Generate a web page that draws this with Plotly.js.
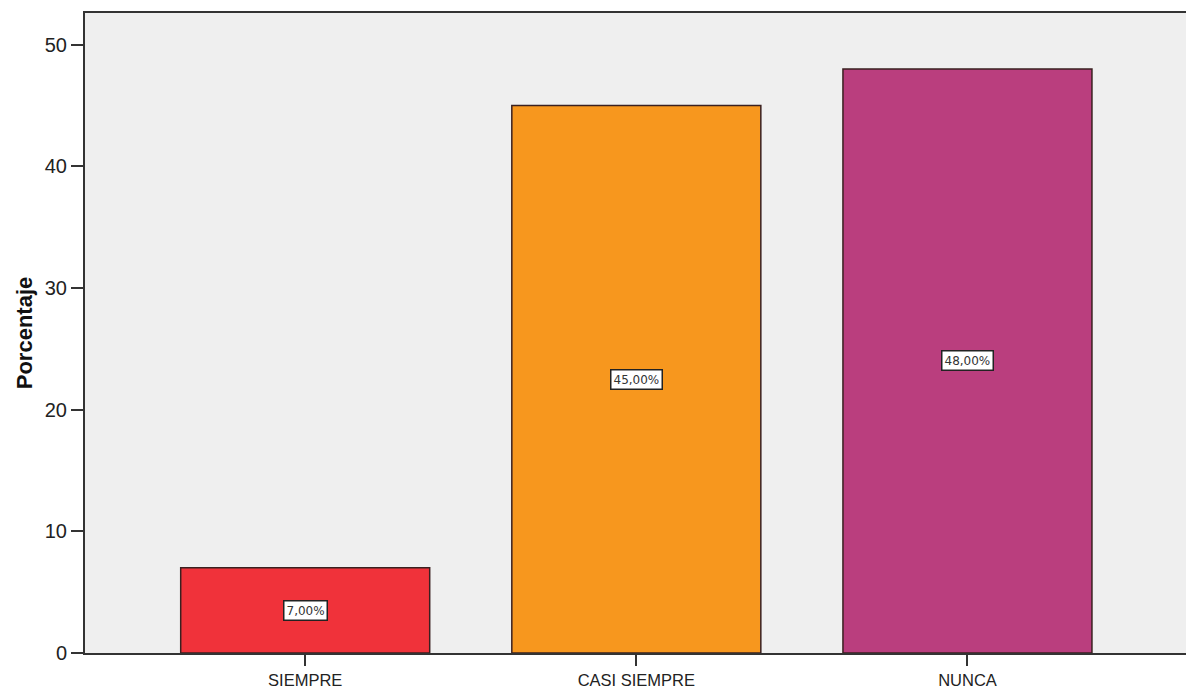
<!DOCTYPE html>
<html>
<head>
<meta charset="utf-8">
<script src="https://cdn.plot.ly/plotly-3.0.1.min.js"></script>
<style>html,body{margin:0;padding:0;background:#fff;}#chart{width:1186px;height:689px;}</style>
</head>
<body>
<div id="chart"></div>
<script>
const categories = ["SIEMPRE", "CASI SIEMPRE", "NUNCA"];
const percentages = [7, 45, 48];
const labels = ["7,00%", "45,00%", "48,00%"];
const barColors = ["#F0323A", "#F7971E", "#BA3E7E"];

const trace = {
  type: "bar",
  x: categories,
  y: percentages,
  width: 0.752,
  marker: {color: barColors, line: {color: "#3a2020", width: 1.5}},
  hoverinfo: "none"
};

const annotations = categories.map((c, i) => ({
  x: c, y: percentages[i] / 2, xref: "x", yref: "y",
  text: labels[i], showarrow: false,
  font: {family: "DejaVu Sans, sans-serif", size: 12, color: "#333"},
  bgcolor: "#ffffff", bordercolor: "#222", borderwidth: 1.5, borderpad: 2
}));

const layout = {
  width: 1186, height: 689,
  margin: {l: 85, r: 0, t: 13, b: 36},
  paper_bgcolor: "#ffffff",
  plot_bgcolor: "#EFEFEF",
  showlegend: false,
  bargap: 0,
  font: {family: "Arial, Liberation Sans, sans-serif", color: "#222"},
  xaxis: {
    type: "category",
    range: [-0.665, 2.66],
    showline: true, linecolor: "#333", linewidth: 2, mirror: true,
    ticks: "outside", ticklen: 11, tickcolor: "#333", tickwidth: 2,
    tickfont: {size: 16.5, color: "#222"},
    showgrid: false, zeroline: false, fixedrange: true
  },
  yaxis: {
    range: [0, 52.6],
    tickvals: [0, 10, 20, 30, 40, 50],
    showline: true, linecolor: "#333", linewidth: 2,
    ticks: "outside", ticklen: 12, tickcolor: "#333", tickwidth: 2,
    tickfont: {size: 20, color: "#222"},
    showgrid: false, zeroline: false,
    title: {text: "Porcentaje", font: {size: 22, color: "#111", weight: "bold"}, standoff: 6}
  },
  annotations: annotations
};

Plotly.newPlot("chart", [trace], layout, {displayModeBar: false, staticPlot: true});
</script>
</body>
</html>
